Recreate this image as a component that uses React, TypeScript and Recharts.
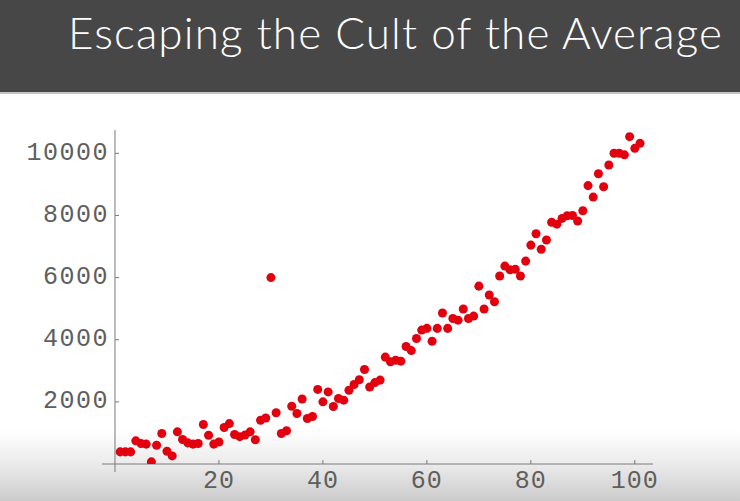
import { ScatterChart, Scatter, XAxis, YAxis, ZAxis, ReferenceLine } from 'recharts'

const title = 'Escaping the Cult of the Average'

const xValues = [
  1, 2, 3, 4, 5, 6, 7, 8, 9, 10,
  11, 12, 13, 14, 15, 16, 17, 18, 19, 20,
  21, 22, 23, 24, 25, 26, 27, 28, 29, 30,
  31, 32, 33, 34, 35, 36, 37, 38, 39, 40,
  41, 42, 43, 44, 45, 46, 47, 48, 49, 50,
  51, 52, 53, 54, 55, 56, 57, 58, 59, 60,
  61, 62, 63, 64, 65, 66, 67, 68, 69, 70,
  71, 72, 73, 74, 75, 76, 77, 78, 79, 80,
  81, 82, 83, 84, 85, 86, 87, 88, 89, 90,
  91, 92, 93, 94, 95, 96, 97, 98, 99, 100,
  101,
]

const yValues = [
  390, 390, 390, 745, 660, 640, 70, 605, 980, 410,
  260, 1035, 790, 680, 640, 660, 1270, 925, 640, 710,
  1175, 1300, 950, 880, 930, 1035, 780, 1410, 1480, 6000,
  1650, 980, 1070, 1860, 1625, 2090, 1465, 1530, 2400, 2000,
  2320, 1850, 2110, 2055, 2375, 2560, 2710, 3040, 2480, 2620,
  2700, 3440, 3290, 3340, 3310, 3780, 3650, 4040, 4310, 4365,
  3950, 4365, 4860, 4365, 4685, 4630, 4990, 4685, 4760, 5725,
  4990, 5440, 5220, 6050, 6370, 6250, 6265, 6050, 6530, 7045,
  7410, 6910, 7210, 7780, 7720, 7905, 7990, 8000, 7820, 8150,
  8960, 8590, 9340, 8925, 9625, 10000, 10000, 9950, 10535, 10160,
  10320,
]

const xTicks = [20, 40, 60, 80, 100]
const yTicks = [2000, 4000, 6000, 8000, 10000]

const points = xValues.map((x, i) => ({ x, y: yValues[i] }))

const axisColor = '#7a7a7a'
const labelColor = '#5e5e5e'
const tickFont = "'Liberation Mono', 'DejaVu Sans Mono', monospace"

function YTick({ x, y, payload }: any) {
  return (
    <g>
      <line x1={x + 13} x2={x + 17} y1={y} y2={y} stroke={axisColor} strokeWidth={1} />
      <text
        x={x + 7}
        y={y}
        textAnchor="end"
        dominantBaseline="central"
        fill={labelColor}
        fontFamily={tickFont}
        fontSize={25}
        letterSpacing={1.5}
      >
        {payload.value}
      </text>
    </g>
  )
}

function XTick({ x, y, payload }: any) {
  return (
    <g>
      <line x1={x} x2={x} y1={y - 8} y2={y - 4} stroke={axisColor} strokeWidth={1} />
      <text
        x={x}
        y={y + 2}
        dy="0.71em"
        textAnchor="middle"
        fill={labelColor}
        fontFamily={tickFont}
        fontSize={25}
        letterSpacing={1}
      >
        {payload.value}
      </text>
    </g>
  )
}

export default function App() {
  return (
    <div
      style={{
        position: 'absolute',
        left: 0,
        top: 0,
        width: 740,
        height: 501,
        background: '#fff',
        overflow: 'hidden',
      }}
    >
      <div
        style={{
          position: 'absolute',
          left: 0,
          top: 0,
          width: 740,
          height: 92,
          background: '#474747',
          borderBottom: '2px solid #c4c4c4',
        }}
      >
        <svg width={740} height={92}>
          <text
            x={68}
            y={49}
            fill="#fff"
            fontFamily="'Lato', 'Open Sans', sans-serif"
            fontWeight={300}
            fontSize={44}
            textLength={654}
            lengthAdjust="spacing"
          >
            {title}
          </text>
        </svg>
      </div>
      <div
        style={{
          position: 'absolute',
          left: 0,
          top: 430,
          width: 740,
          height: 71,
          background: 'linear-gradient(#ffffff, #eaeaea 50%, #cbcbcb)',
        }}
      />
      <div style={{ position: 'absolute', left: 0, top: 0 }}>
        <ScatterChart width={740} height={501} margin={{ top: 130, right: 87, bottom: 0, left: 42 }}>
          <XAxis
            type="number"
            dataKey="x"
            domain={[-2.5, 103.5]}
            ticks={xTicks}
            allowDataOverflow
            axisLine={{ stroke: axisColor, strokeWidth: 1 }}
            tickLine={false}
            tickSize={4}
            tickMargin={0}
            height={37}
            tick={<XTick />}
          />
          <YAxis
            type="number"
            dataKey="y"
            domain={[0, 10750]}
            ticks={yTicks}
            allowDataOverflow
            axisLine={false}
            tickLine={false}
            tickSize={0}
            tickMargin={0}
            width={60}
            tick={<YTick />}
          />
          <ZAxis range={[100, 100]} />
          <ReferenceLine
            segment={[{ x: 0, y: -260 }, { x: 0, y: 10750 }]}
            stroke={axisColor}
            strokeWidth={1}
            ifOverflow="visible"
          />
          <Scatter data={points} fill="#e2000e" isAnimationActive={false} />
        </ScatterChart>
      </div>
    </div>
  )
}
